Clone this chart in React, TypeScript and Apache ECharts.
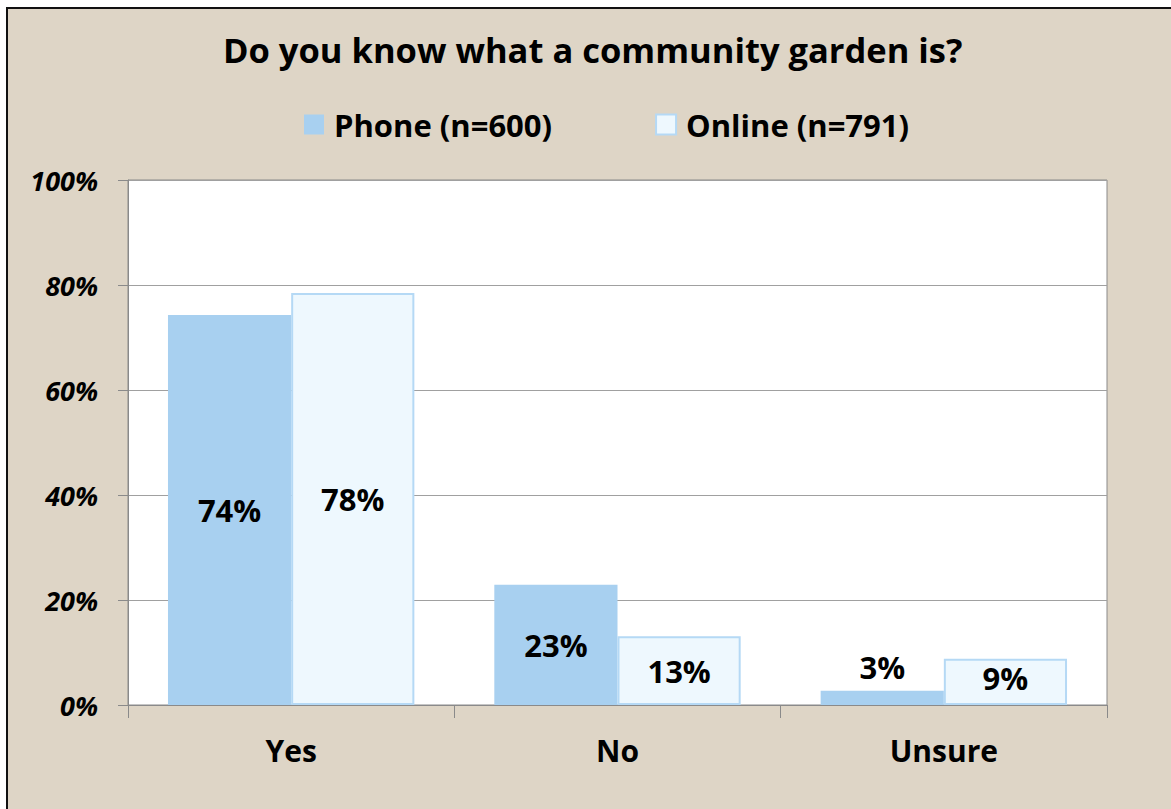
import React, { useEffect, useRef } from "react";
import * as echarts from "echarts";

const categories = ["Yes", "No", "Unsure"];
const phoneValues = [74.3, 22.9, 2.7];
const onlineValues = [78.5, 13.1, 8.8];
const phoneLabels = ["74%", "23%", "3%"];
const onlineLabels = ["78%", "13%", "9%"];
const seriesNames = ["Phone (n=600)", "Online (n=791)"];
const yTicks = [0, 20, 40, 60, 80, 100];

const FONT = "Open Sans";

export default function App() {
  const ref = useRef<HTMLDivElement>(null);
  useEffect(() => {
    if (!ref.current) return;
    const chart = echarts.init(ref.current, null, { renderer: "svg" });
    const barLabelStyle = { fontSize: 31, fontWeight: "bold", color: "#000", fontFamily: FONT };
    chart.setOption({
      animation: false,
      textStyle: { fontFamily: FONT },
      title: {
        text: "Do you know what a community garden is?",
        left: 223,
        top: 32,
        padding: 0,
        textStyle: { fontSize: 34.5, fontWeight: "bold", color: "#000", fontFamily: FONT },
      },
      legend: {
        top: 104,
        left: 299,
        icon: "rect",
        itemWidth: 20,
        itemHeight: 20,
        itemGap: 103,
        textStyle: { fontSize: 31, fontWeight: "bold", color: "#000", fontFamily: FONT, padding: [0, 0, 0, 5] },
        data: seriesNames,
      },
      grid: {
        left: 128,
        right: 64,
        top: 180,
        bottom: 104,
        show: true,
        backgroundColor: "#ffffff",
        borderColor: "#8a8a8a",
        borderWidth: 1,
      },
      xAxis: {
        type: "category",
        data: categories,
        axisLine: { show: true, lineStyle: { color: "#8a8a8a", width: 1 } },
        axisTick: { show: true, length: 13, lineStyle: { color: "#8a8a8a" } },
        axisLabel: { margin: 30, fontSize: 30, fontWeight: "bold", color: "#000", fontFamily: FONT },
      },
      yAxis: {
        type: "value",
        min: yTicks[0],
        max: yTicks[yTicks.length - 1],
        interval: 20,
        axisLine: { show: true, lineStyle: { color: "#8a8a8a", width: 1 } },
        axisTick: { show: true, length: 10, lineStyle: { color: "#8a8a8a" } },
        splitLine: { lineStyle: { color: "#a0a0a0", width: 1 } },
        axisLabel: {
          formatter: "{value}%",
          fontSize: 27,
          fontWeight: "bold",
          fontStyle: "italic",
          color: "#000",
          fontFamily: FONT,
          margin: 30,
        },
      },
      series: [
        {
          name: seriesNames[0],
          type: "bar",
          barGap: "0%",
          barCategoryGap: "24.5%",
          itemStyle: { color: "#a8d0f0" },
          data: phoneValues.map((v, i) => ({
            value: v,
            label: {
              show: true,
              position: v < 5 ? "top" : "inside",
              distance: 8,
              formatter: phoneLabels[i],
              ...barLabelStyle,
            },
          })),
        },
        {
          name: seriesNames[1],
          type: "bar",
          barGap: "0%",
          barCategoryGap: "24.5%",
          itemStyle: { color: "#eef8fe", borderColor: "#b5d9f5", borderWidth: 2 },
          data: onlineValues.map((v, i) => ({
            value: v,
            label: {
              show: true,
              position: "inside",
              offset: [0, i === 2 ? -4 : 0],
              formatter: onlineLabels[i],
              ...barLabelStyle,
            },
          })),
        },
      ],
    });
    return () => chart.dispose();
  }, []);

  return (
    <>
      <div
        style={{
          position: "fixed",
          left: 6,
          top: 7,
          width: 1180,
          height: 820,
          background: "#ded5c6",
          border: "2px solid #111",
        }}
      />
      <div
        ref={ref}
        style={{ position: "fixed", left: 0, top: 0, width: 1171, height: 809 }}
      />
    </>
  );
}
